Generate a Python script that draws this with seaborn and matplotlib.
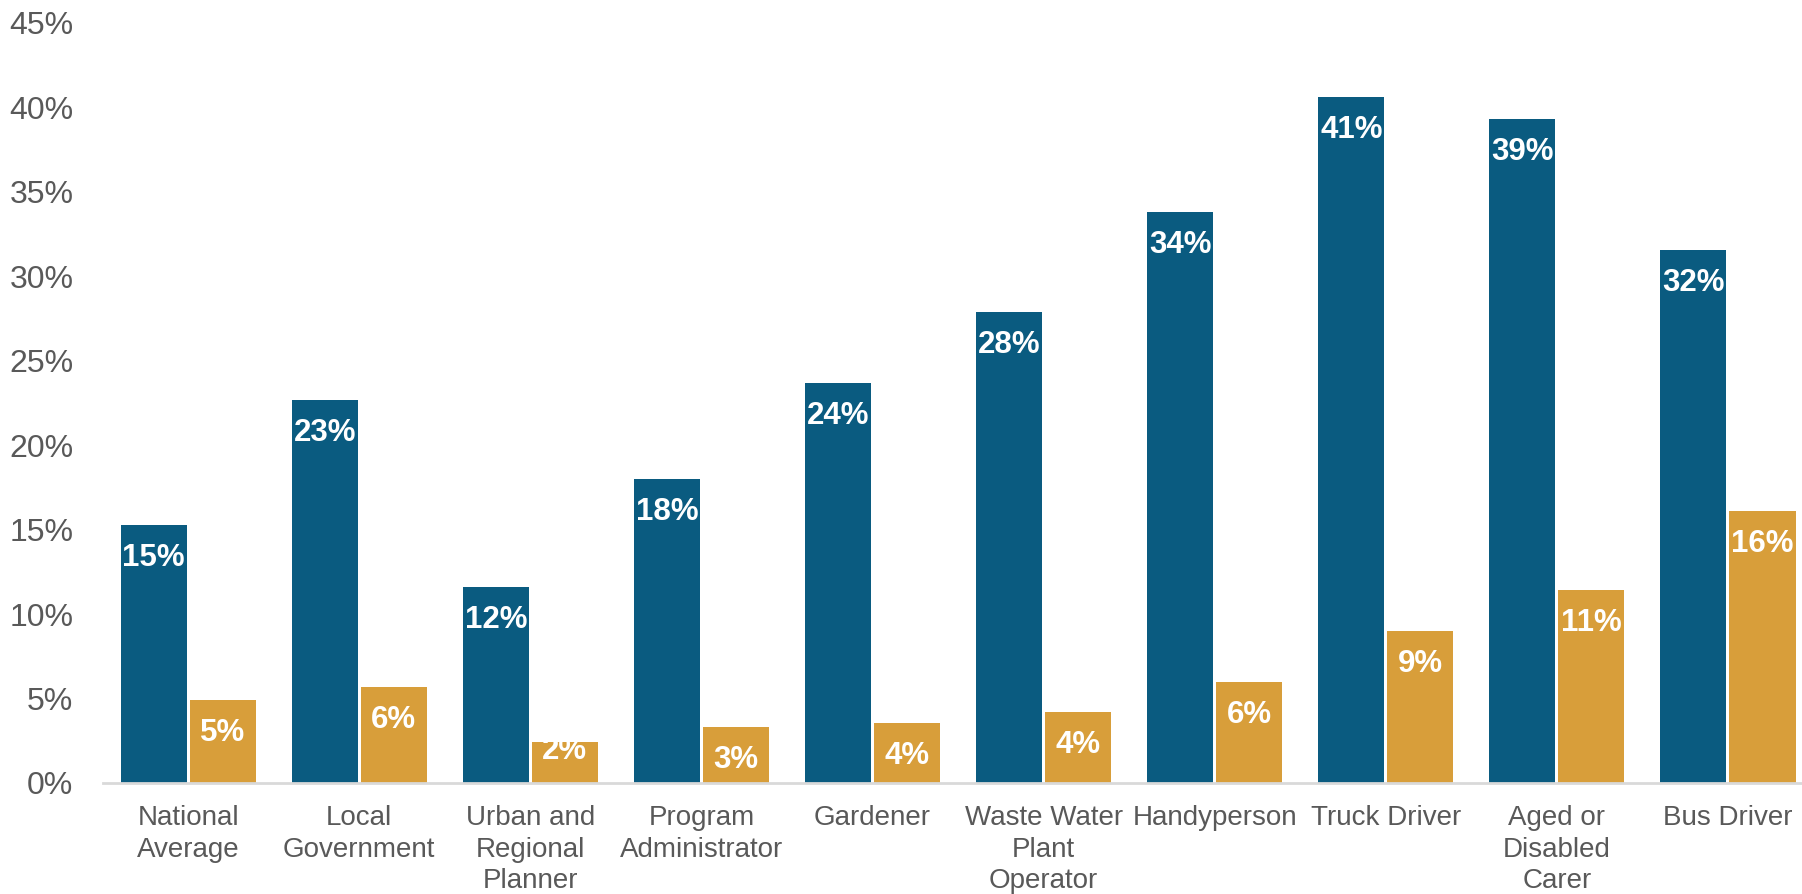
import pandas as pd
import seaborn as sns
import matplotlib.pyplot as plt

occupations = ['National\nAverage', 'Local\nGovernment', 'Urban and\nRegional\nPlanner',
               'Program\nAdministrator', 'Gardener', 'Waste Water\nPlant\nOperator',
               'Handyperson', 'Truck Driver', 'Aged or\nDisabled\nCarer', 'Bus Driver']
series_a = [15.3, 22.7, 11.6, 18.0, 23.7, 27.9, 33.8, 40.6, 39.3, 31.55]
series_b = [4.9, 5.7, 2.4, 3.3, 3.55, 4.2, 6.0, 9.0, 11.45, 16.1]
series_names = ['A', 'B']
y_ticks = [0, 5, 10, 15, 20, 25, 30, 35, 40, 45]

df = pd.DataFrame({
    'occupation': occupations * 2,
    'value': series_a + series_b,
    'series': [series_names[0]] * len(occupations) + [series_names[1]] * len(occupations),
})

sns.set_style('white')
plt.rcParams['font.family'] = ['Liberation Sans', 'DejaVu Sans']
grey = '#595959'

fig = plt.figure(figsize=(18.02, 8.94), dpi=100)
ax = fig.add_axes([0.0569, 0.1242, 0.9495, 0.8501])

sns.barplot(data=df, x='occupation', y='value', hue='series',
            palette=['#0A5B80', '#D89E3A'], width=0.807, gap=0.043,
            linewidth=0, saturation=1, legend=False, ax=ax)

ax.set_ylim(0, 45)

# value labels just inside the top of each bar (short bars: label nearer the top)
for cont in ax.containers:
    for bar in cont:
        h = bar.get_height()
        px = ax.transData.transform((0, h))[1] - ax.transData.transform((0, 0))[1]
        off = -33 if px > 50 else -9
        ax.annotate(f'{h:.0f}%', (bar.get_x() + bar.get_width() / 2, h),
                    xytext=(0, off), textcoords='offset pixels',
                    ha='center', va='center', color='white',
                    fontsize=22.5, fontweight='bold')

ax.set_yticks(y_ticks)
ax.set_yticklabels([f'{t}%' for t in y_ticks])
ax.set_xlabel('')
ax.set_ylabel('')
ax.tick_params(axis='y', labelsize=23, labelcolor=grey, length=0, pad=21)
ax.tick_params(axis='x', labelsize=20, labelcolor=grey, length=0, pad=16)
for lab in ax.get_xticklabels():
    lab.set_linespacing(1.28)

for side in ['top', 'right', 'left']:
    ax.spines[side].set_visible(False)
ax.spines['bottom'].set_color('#D9D9D9')
ax.spines['bottom'].set_linewidth(2)

fig.savefig('out.png', dpi=100)
